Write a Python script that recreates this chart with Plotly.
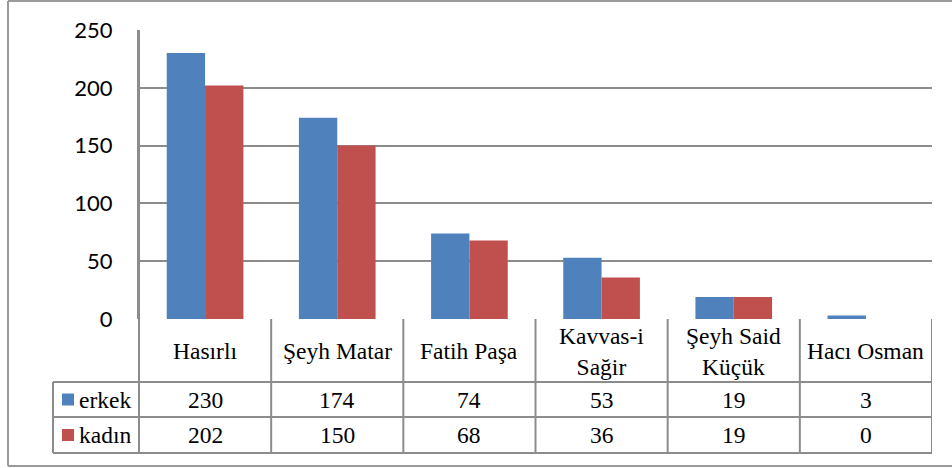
import plotly.graph_objects as go

categories = ["Hasırlı", "Şeyh Matar", "Fatih Paşa", "Kavvas-i Sağir", "Şeyh Said Küçük", "Hacı Osman"]
header_labels = ["Hasırlı", "Şeyh Matar", "Fatih Paşa", "Kavvas-i<br>Sağir", "Şeyh Said<br>Küçük", "Hacı Osman"]
erkek = [230, 174, 74, 53, 19, 3]
kadin = [202, 150, 68, 36, 19, 0]
series = [("erkek", erkek, "#4F81BD"), ("kadın", kadin, "#C0504D")]
y_ticks = [0, 50, 100, 150, 200, 250]

W, H = 952, 468
L, R, T, B = 139, 932, 30, 319  # plot area in pixels


def px_x(p):
    return (p - L) / (R - L)


def px_y(p):
    return (B - p) / (B - T)


GRID = "#8C8C8C"
SERIF = "Liberation Serif"  # a single family name; comma lists didn't resolve here
TFONT = dict(family=SERIF, size=23.5, color="#000")

fig = go.Figure()
x_idx = list(range(len(categories)))
for name, vals, color in series:
    fig.add_trace(go.Bar(x=x_idx, y=vals, name=name, marker=dict(color=color, line_width=0)))

shapes = []
annotations = []

# outer frame (left, top, bottom)
frame = dict(type="line", xref="paper", yref="paper", line=dict(color="#9A9A9A", width=2), layer="above")
shapes.append(dict(frame, x0=px_x(8), x1=px_x(8), y0=px_y(1), y1=px_y(466)))
shapes.append(dict(frame, x0=px_x(8), x1=px_x(960), y0=px_y(1), y1=px_y(1)))
shapes.append(dict(frame, x0=px_x(8), x1=px_x(960), y0=px_y(466), y1=px_y(466)))

# data table
line = dict(color=GRID, width=2)
row_y = [382, 417, 453]
for yy in row_y:
    shapes.append(dict(type="line", xref="paper", yref="paper", x0=px_x(53), x1=px_x(R),
                       y0=px_y(yy), y1=px_y(yy), line=line))
shapes.append(dict(type="line", xref="paper", yref="paper", x0=px_x(53), x1=px_x(53),
                   y0=px_y(382), y1=px_y(453), line=line))
shapes.append(dict(type="line", xref="paper", yref="paper", x0=0, x1=0,
                   y0=px_y(T), y1=px_y(453), line=line))
for i in range(len(categories)):
    shapes.append(dict(type="line", xref="x", yref="paper", x0=i + 0.5, x1=i + 0.5,
                       y0=0, y1=px_y(453), line=line))

for i, lab in enumerate(header_labels):
    annotations.append(dict(x=i, y=px_y(351), xref="x", yref="paper", text=lab, showarrow=False,
                            font=TFONT, align="center", yanchor="middle"))

for r, (name, vals, color) in enumerate(series):
    yc = (row_y[r] + row_y[r + 1]) / 2
    shapes.append(dict(type="rect", xref="paper", yref="paper", x0=px_x(62), x1=px_x(74),
                       y0=px_y(yc - 6), y1=px_y(yc + 6), fillcolor=color, line_width=0))
    annotations.append(dict(x=px_x(77), y=px_y(yc), xref="paper", yref="paper", text=name,
                            showarrow=False, xanchor="left", yanchor="middle", font=TFONT))
    for i, v in enumerate(vals):
        annotations.append(dict(x=i, y=px_y(yc), xref="x", yref="paper", text=str(v),
                                showarrow=False, yanchor="middle", font=TFONT))

fig.update_layout(
    width=W, height=H,
    margin=dict(l=L, r=W - R, t=T, b=H - B),
    paper_bgcolor="white", plot_bgcolor="white",
    showlegend=False,
    barmode="group", bargap=0.42, bargroupgap=0,
    shapes=shapes, annotations=annotations,
    xaxis=dict(range=[-0.5, len(categories) - 0.5], showticklabels=False, showgrid=False,
               zeroline=False, ticks=""),
    yaxis=dict(range=[0, 250], tickvals=y_ticks, showgrid=True, gridcolor=GRID, gridwidth=2,
               zeroline=False, showline=True, linecolor=GRID, linewidth=2, ticks="",
               ticklabelstandoff=20,
               tickfont=dict(family="Lato", size=22, color="#000")),
)

# drop the page's default body margin so the figure sits at the window origin
fig.write_html("out.html", config={"displayModeBar": False},
               post_script="document.body.style.margin='0';")
